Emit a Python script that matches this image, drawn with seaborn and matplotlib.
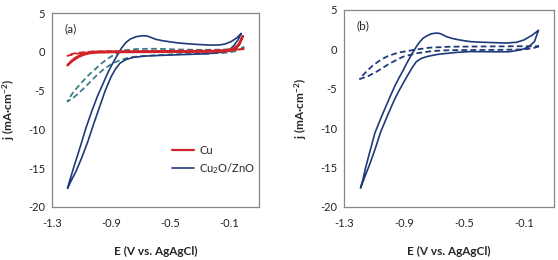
"""
Cyclic voltammograms: Cu vs Cu2O/ZnO, panels (a) and (b)
"""

import matplotlib
matplotlib.use("Agg")
import matplotlib.pyplot as plt
import seaborn as sns

# ---- data ----
# panel (a), Cu2O/ZnO solid: loop vertex -> -1.2 V -> vertex
a_oxide_E = [-0.02, -0.04, -0.07, -0.10, -0.15, -0.25, -0.40, -0.55, -0.67, -0.75,
             -0.80, -0.84, -0.87, -0.90, -0.94, -0.98, -1.02, -1.06, -1.10, -1.14,
             -1.17, -1.195,
             -1.18, -1.15, -1.11, -1.07, -1.03, -0.99, -0.95, -0.92, -0.89, -0.86,
             -0.83, -0.80, -0.77, -0.73, -0.69, -0.66, -0.63, -0.60, -0.55, -0.50,
             -0.45, -0.38, -0.30, -0.22, -0.17, -0.13, -0.09, -0.05, -0.02]
a_oxide_j = [2.35, 1.6, 0.8, 0.25, -0.05, -0.25, -0.35, -0.45, -0.55, -0.72,
             -1.0, -1.46, -2.2, -3.2, -5.0, -7.2, -9.4, -11.7, -13.7, -15.5,
             -16.6, -17.6,
             -16.6, -14.7, -12.3, -9.8, -7.6, -5.6, -3.9, -2.6, -1.5, -0.5,
             0.48, 1.2, 1.65, 1.95, 2.07, 2.05, 1.85, 1.62, 1.42, 1.28,
             1.15, 1.03, 0.93, 0.86, 0.88, 1.0, 1.3, 1.8, 2.35]

# panel (a), Cu2O/ZnO dashed
a_oxide_d_E = [0.0, -0.05, -0.12, -0.25, -0.45, -0.63, -0.70, -0.763, -0.80, -0.85,
               -0.895, -0.94, -0.985, -1.029, -1.073, -1.118, -1.16, -1.196,
               -1.16, -1.107, -1.051, -1.0, -0.963, -0.92, -0.873, -0.807, -0.718,
               -0.585, -0.45, -0.30, -0.15, -0.06, 0.0]
a_oxide_d_j = [0.6, 0.1, -0.12, -0.22, -0.3, -0.48, -0.56, -0.69, -0.85, -1.16,
               -1.55, -2.1, -2.8, -3.62, -4.49, -5.3, -6.0, -6.4,
               -5.3, -4.1, -2.98, -2.1, -1.46, -0.85, -0.3, 0.2, 0.38,
               0.39, 0.3, 0.25, 0.28, 0.35, 0.6]

# panel (a), Cu solid
a_cu_E = [-0.01, -0.03, -0.06, -0.10, -0.20, -0.50, -0.90, -1.00, -1.05, -1.085,
          -1.12, -1.16, -1.196,
          -1.17, -1.14, -1.10, -1.06, -1.02, -0.90, -0.50, -0.20, -0.12, -0.07,
          -0.04, -0.01]
a_cu_j = [2.0, 1.0, 0.35, 0.1, 0.02, -0.02, -0.05, -0.1, -0.2, -0.38,
          -0.65, -1.15, -1.75,
          -1.2, -0.75, -0.35, -0.12, 0.0, 0.05, 0.08, 0.12, 0.2, 0.45,
          0.9, 2.0]

# panel (a), Cu dashed
a_cu_d_E = [0.0, -0.3, -0.7, -1.0, -1.08, -1.118, -1.16, -1.196,
            -1.16, -1.118, -1.03, -0.7, -0.3, -0.1, 0.0]
a_cu_d_j = [0.35, 0.0, -0.02, -0.05, -0.12, -0.2, -0.33, -0.52,
            -0.25, -0.12, 0.04, 0.1, 0.15, 0.2, 0.35]

# panel (b), Cu2O/ZnO solid
b_oxide_E = [-0.004, -0.03, -0.07, -0.12, -0.20, -0.30, -0.464, -0.55, -0.663, -0.70,
             -0.751, -0.785, -0.818, -0.845, -0.873, -0.90, -0.929, -0.962, -1.01,
             -1.056, -1.09, -1.127, -1.16, -1.19,
             -1.175, -1.156, -1.125, -1.094, -1.045, -0.995, -0.96, -0.93, -0.907,
             -0.88, -0.851, -0.818, -0.795, -0.774, -0.745, -0.718, -0.69, -0.663,
             -0.64, -0.619, -0.58, -0.53, -0.464, -0.40, -0.30, -0.22, -0.15, -0.10,
             -0.05, -0.004]
b_oxide_j = [2.4, 1.0, 0.3, -0.05, -0.3, -0.3, -0.28, -0.38, -0.6, -0.72,
             -0.93, -1.15, -1.56, -2.3, -3.2, -4.1, -5.1, -6.3, -8.4,
             -10.5, -12.5, -14.5, -16.1, -17.6,
             -16.6, -15.0, -12.8, -10.6, -8.3, -6.1, -4.6, -3.5, -2.7,
             -1.7, -0.71, 0.34, 0.95, 1.4, 1.75, 1.97, 2.07, 2.03,
             1.85, 1.63, 1.4, 1.2, 1.0, 0.92, 0.86, 0.81, 0.9, 1.2,
             1.75, 2.4]

# panel (b), Cu2O/ZnO dashed
b_oxide_d_E = [0.0, -0.04, -0.10, -0.25, -0.464, -0.597, -0.708, -0.818, -0.907, -0.995,
               -1.083, -1.14, -1.194,
               -1.183, -1.15, -1.105, -1.06, -1.017, -0.97, -0.929, -0.84, -0.73,
               -0.597, -0.464, -0.30, -0.15, 0.0]
b_oxide_d_j = [0.4, 0.15, 0.0, -0.05, -0.08, -0.1, -0.2, -0.5, -0.93, -1.78,
               -2.83, -3.4, -3.75,
               -3.46, -2.8, -1.98, -1.4, -0.93, -0.6, -0.38, -0.08, 0.22,
               0.34, 0.36, 0.38, 0.4, 0.4]

x_ticks = [-1.3, -0.9, -0.5, -0.1]
y_ticks = [-20, -15, -10, -5, 0, 5]
legend_labels = ["Cu", "Cu$_2$O/ZnO"]

navy = "#1F3A7A"
red = "#D0242A"
teal = "#3B7D88"

sns.set_style("white")
plt.rcParams["font.family"] = ["Lato", "DejaVu Sans"]
plt.rcParams["mathtext.fontset"] = "custom"
plt.rcParams["mathtext.rm"] = "Lato"
plt.rcParams["mathtext.it"] = "Lato:italic"
plt.rcParams["mathtext.bf"] = "Lato:bold"

fig = plt.figure(figsize=(5.58, 2.60), dpi=100)
ax_a = fig.add_axes([52 / 558, 53 / 260, 207 / 558, 194 / 260])
ax_b = fig.add_axes([344 / 558, 53 / 260, 210 / 558, 197 / 260])

dash = (0, (3.2, 1.8))

sns.lineplot(x=a_oxide_d_E, y=a_oxide_d_j, sort=False, estimator=None, ax=ax_a,
             color=teal, linewidth=1.3, linestyle=dash)
sns.lineplot(x=a_cu_d_E, y=a_cu_d_j, sort=False, estimator=None, ax=ax_a,
             color=red, linewidth=1.3, linestyle=dash)
sns.lineplot(x=a_oxide_E, y=a_oxide_j, sort=False, estimator=None, ax=ax_a,
             color=navy, linewidth=1.2, label=legend_labels[1])
sns.lineplot(x=a_cu_E, y=a_cu_j, sort=False, estimator=None, ax=ax_a,
             color=red, linewidth=1.6, label=legend_labels[0])

sns.lineplot(x=b_oxide_d_E, y=b_oxide_d_j, sort=False, estimator=None, ax=ax_b,
             color=navy, linewidth=1.3, linestyle=dash)
sns.lineplot(x=b_oxide_E, y=b_oxide_j, sort=False, estimator=None, ax=ax_b,
             color=navy, linewidth=1.2)

for ax, tag in [(ax_a, "(a)"), (ax_b, "(b)")]:
    ax.set_xlim(-1.3, 0.1)
    ax.set_ylim(-20, 5)
    ax.set_xticks(x_ticks)
    ax.set_xticklabels([f"{t:.1f}" for t in x_ticks])
    ax.set_yticks(y_ticks)
    ax.set_yticklabels([str(t) for t in y_ticks])
    ax.tick_params(direction="in", length=3, width=0.8, color="#878787",
                   labelsize=8, labelcolor="#222222", pad=5)
    ax.tick_params(axis="x", pad=8)
    for s in ax.spines.values():
        s.set_color("#878787")
        s.set_linewidth(0.9)
    ax.set_xlabel("E (V vs. AgAgCl)", fontsize=8.5, fontweight="bold", labelpad=12)
    ax.set_ylabel(r"j (mA·cm$^{\mathbf{-2}}$)", fontsize=8.5, fontweight="bold", labelpad=8)
    ax.text(0.06, 0.92, tag, transform=ax.transAxes, fontsize=8.5, va="center", ha="left")

handles, labels = ax_a.get_legend_handles_labels()
order = [labels.index(l) for l in legend_labels]
ax_a.legend([handles[i] for i in order], [labels[i] for i in order],
            loc="lower left", bbox_to_anchor=(0.53, 0.11), frameon=False,
            fontsize=8, handlelength=2.0, labelspacing=0.45, handletextpad=0.5)

fig.savefig("out.png", dpi=100)
